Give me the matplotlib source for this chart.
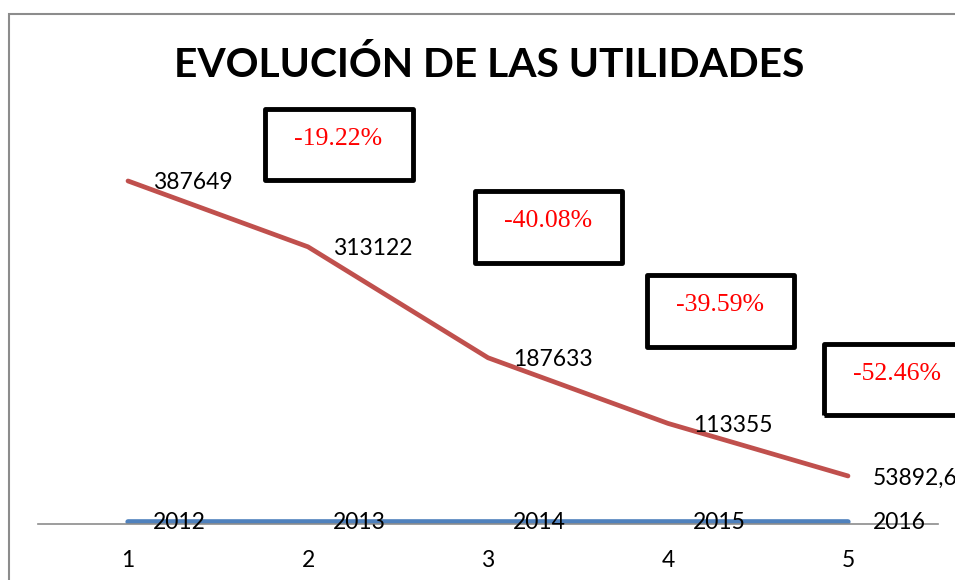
import matplotlib
matplotlib.use("Agg")
import matplotlib.pyplot as plt
from matplotlib.patches import Rectangle

W, H = 955, 580

# data
x = [1, 2, 3, 4, 5]
years = [2012, 2013, 2014, 2015, 2016]
utilidades = [387649, 313122, 187633, 113355, 53892.6]
variacion = ["-19.22%", "-40.08%", "-39.59%", "-52.46%"]

RED = "#C0504D"
BLUE = "#4F81BD"


def fx(px):
    return px / W


def fy(py):
    return 1 - py / H


fig = plt.figure(figsize=(W / 100, H / 100), dpi=100)

# outer chart frame (cut off at right and bottom)
fig.patches.append(Rectangle((fx(9), fy(600)), fx(980), fy(14) - fy(600),
                             transform=fig.transFigure, fill=False,
                             edgecolor="#8c8c8c", lw=1.5))

# plot area: x 0.5..5.5 spans px 38..938, y=0 at px 523.6
ytop = 450000
scale = 295 / (387649 - 53892.6)
y0 = 523.6
ax = fig.add_axes([fx(38), fy(y0), fx(900), ytop * scale / H])
ax.set_xlim(0.5, 5.5)
ax.set_ylim(0, ytop)

ax.plot(x, years, color=BLUE, lw=3.8, solid_capstyle="round")
ax.plot(x, utilidades, color=RED, lw=3.4, solid_capstyle="round",
        solid_joinstyle="round")

for xi, v in zip(x, utilidades):
    txt = ("%g" % v).replace(".", ",")
    ax.annotate(txt, (xi, v), xytext=(25, -2), textcoords="offset pixels",
                ha="left", va="center", fontsize=16.5, family="Lato",
                annotation_clip=False)
for xi, v in zip(x, years):
    ax.annotate(str(v), (xi, v), xytext=(25, -1), textcoords="offset pixels",
                ha="left", va="center", fontsize=16.5, family="Lato",
                annotation_clip=False)

for s in ["top", "right", "left"]:
    ax.spines[s].set_visible(False)
ax.spines["bottom"].set_color("#8c8c8c")
ax.spines["bottom"].set_linewidth(1.2)
ax.set_yticks([])
ax.set_xticks(x)
ax.tick_params(axis="x", length=0, pad=19, labelsize=16.5)
for lab in ax.get_xticklabels():
    lab.set_family("Lato")

fig.text(fx(489), fy(65), "EVOLUCIÓN DE LAS UTILIDADES", ha="center",
         va="center", fontsize=29.3, fontweight="bold", family="Lato")

# percentage change boxes
boxes = [(265, 109, 413, 180), (475, 191, 622, 263),
         (647, 275, 794, 347), (824, 344, 975, 415)]
for (x1, y1, x2, y2), t in zip(boxes, variacion):
    fig.patches.append(Rectangle((fx(x1), fy(y2)), fx(x2 - x1), fy(y1) - fy(y2),
                                 transform=fig.transFigure, fill=False,
                                 edgecolor="black", lw=3.5, joinstyle="round"))
    fig.text(fx(x1 + 73), fy(y1 + 30), t, ha="center", va="center",
             color="red", fontsize=18.5, family="Liberation Serif")

fig.savefig("out.png", dpi=100)
